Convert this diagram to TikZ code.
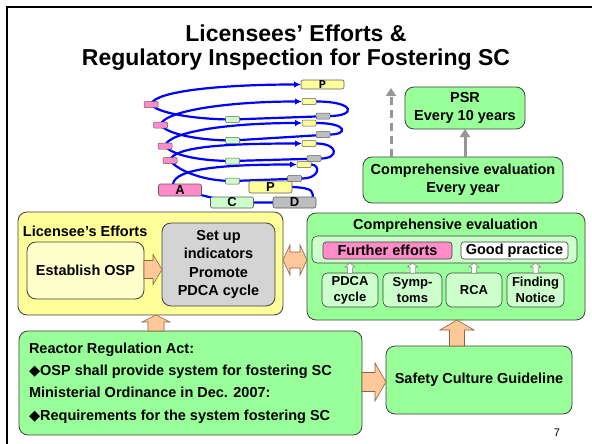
\documentclass[tikz,border=0pt]{standalone}
\usepackage{fontspec}
\setmainfont{Liberation Sans}
\newfontfamily\symfont{DejaVu Sans}
\newfontfamily\monofont{Liberation Mono}
\usetikzlibrary{arrows.meta,calc}
\pgfdeclarelayer{background}
\pgfsetlayers{background,main}

\definecolor{boxgreen}{RGB}{153,255,153}
\definecolor{palegreen}{RGB}{204,255,204}
\definecolor{boxyellow}{RGB}{255,255,153}
\definecolor{paleyellow}{RGB}{255,255,204}
\definecolor{boxgray}{RGB}{212,212,212}
\definecolor{stepgray}{RGB}{190,190,190}
\definecolor{boxpink}{RGB}{255,140,200}
\definecolor{peach}{RGB}{255,200,152}
\definecolor{peachline}{RGB}{140,100,70}
\definecolor{edge}{RGB}{64,64,64}
\definecolor{spiralblue}{RGB}{0,0,255}
\definecolor{arrowgray}{RGB}{150,150,150}

\newcommand\fs[2]{\fontsize{#1}{#2}\selectfont}

% block arrow pointing up: style, base point, length, body half, head half, head length
\newcommand\arrowup[6]{%
  \draw[#1] #2 ++(-#4,0) -- ++(0,{-(#3-#6)}) -- ++({-(#5-#4)},0) -- ++(#5,-#6)
    -- ++(#5,#6) -- ++({-(#5-#4)},0) -- ++(0,{#3-#6}) -- cycle;}
% block arrow pointing right: style, base point, length, body half, head half, head length
\newcommand\arrowright[6]{%
  \draw[#1] #2 ++(0,-#4) -- ++({#3-#6},0) -- ++(0,{-(#5-#4)}) -- ++(#6,#5)
    -- ++(-#6,#5) -- ++(0,{-(#5-#4)}) -- ++({-(#3-#6)},0) -- cycle;}
% two-headed block arrow: style, left tip, length, body half, head half, head length
\newcommand\arrowboth[6]{%
  \draw[#1] #2 -- ++(#6,-#5) -- ++(0,{#5-#4}) -- ++({#3-2*#6},0) -- ++(0,{-(#5-#4)})
    -- ++(#6,#5) -- ++(-#6,#5) -- ++(0,{-(#5-#4)}) -- ++({-(#3-2*#6)},0)
    -- ++(0,{#5-#4}) -- cycle;}

\begin{document}
\begin{tikzpicture}[x=1pt,y=-1pt,
  every node/.style={inner sep=0pt, outer sep=0pt},
  txt/.style={font=\bfseries\fs{14.5}{18.3}, align=center},
  panel/.style={txt, draw=edge, line width=0.8pt, rounded corners=9pt},
  tag/.style={txt, draw=edge, line width=0.6pt, rounded corners=3pt, minimum height=17pt},
  smallbox/.style={draw=edge, line width=0.6pt, rounded corners=6pt, fill=palegreen,
    minimum height=34pt, align=center, font=\bfseries\fs{13}{16}},
  peacharrow/.style={fill=peach, draw=peachline, line width=0.6pt, line join=miter},
  hollowarrow/.style={fill=white, draw=arrowgray!80!black, line width=0.5pt},
  psrarrow/.style={draw=arrowgray, line width=3pt, -{Triangle[length=8pt,width=10pt]}},
  spsmall/.style={draw=edge!85, line width=0.5pt, rounded corners=1pt,
    minimum width=14pt, minimum height=6pt},
  spbig/.style={draw=edge!85, line width=0.6pt, rounded corners=2pt,
    minimum width=43pt, minimum height=12pt, font=\bfseries\fs{13}{13}},
  spiral/.style={draw=spiralblue, line width=2.2pt},
  spiralarrow/.style={spiral, -{Latex[length=7pt,width=6.5pt]}}
]
\useasboundingbox (0,0) rectangle (592,444);
\draw[line width=2pt] (7,444) -- (7,7) -- (592,7);

% heading
\node[font=\bfseries\fs{23}{24}, align=center] (title) at (296,48)
  {Licensees’ Efforts \&\\Regulatory Inspection for Fostering SC};

% ---------- PDCA spiral ----------
\node[spbig, fill=boxpink] (bA) at (180,190) {A};
\node[spbig, fill=boxyellow] (bP) at (270.5,187) {P};
\node[spbig, fill=palegreen, minimum height=11pt] (bC) at (232,202.5) {C};
\node[spbig, fill=stepgray, minimum height=11pt] (bD) at (294.5,202.5) {D};
\node[spbig, fill=boxyellow, minimum height=9pt, font=\monofont\bfseries\fs{12}{12}] (topP) at (322.5,84.5) {P};

\node[spsmall, fill=boxpink] (pk1) at (170,160.5) {};
\node[spsmall, fill=boxpink] (pk2) at (165,146) {};
\node[spsmall, fill=boxpink] (pk3) at (160.5,125) {};
\node[spsmall, fill=boxpink] (pk4) at (151,104.5) {};
\node[spsmall, fill=palegreen] (gr1) at (232.5,181) {};
\node[spsmall, fill=palegreen] (gr2) at (232.5,161) {};
\node[spsmall, fill=palegreen] (gr3) at (232.5,140.5) {};
\node[spsmall, fill=palegreen] (gr4) at (232.5,119.5) {};
\node[spsmall, fill=boxyellow] (y1) at (304,164.5) {};
\node[spsmall, fill=boxyellow] (y2) at (309,143.5) {};
\node[spsmall, fill=boxyellow] (y3) at (309,123) {};
\node[spsmall, fill=boxyellow] (y4) at (309,101.5) {};
\node[spsmall, fill=stepgray] (g1) at (294.5,178.5) {};
\node[spsmall, fill=stepgray] (g2) at (314,158.5) {};
\node[spsmall, fill=stepgray] (g3) at (323,134.5) {};
\node[spsmall, fill=stepgray] (g4) at (323,116) {};

\begin{pgfonlayer}{background}
  \fill[white] (0,0) rectangle (592,444);
  \draw[spiral] (bP.east) .. controls +(22,1) and +(2,-9) .. ($(bD.east)+(-4,-2)$);
  \draw[spiral] (bD.center) -- (bC.center) -- (bA.center);
  \draw[spiralarrow] ($(bA.north)+(-7,0)$) .. controls +(2,-16) and +(-70,0) .. (y1.west);
  % level 1
  \draw[spiral] (y1.east) .. controls +(9.5,0) and +(19,0) .. (g1.east)
    -- (gr1.center) .. controls +(-30,0) and +(8,10) .. (pk1.center);
  \draw[spiralarrow] (pk1.center) .. controls +(3,-14) and +(-75,0) .. (y2.west);
  % level 2
  \draw[spiral] (y2.east) .. controls +(23,0) and +(18,0) .. (g2.east)
    -- (gr2.center) .. controls +(-30,0) and +(8,10) .. (pk2.center);
  \draw[spiralarrow] (pk2.center) .. controls +(3,-14) and +(-75,0) .. (y3.west);
  % level 3
  \draw[spiral] (y3.east) .. controls +(32,0) and +(18,0) .. (g3.east)
    -- (gr3.center) .. controls +(-30,0) and +(8,10) .. (pk3.center);
  \draw[spiralarrow] (pk3.center) .. controls +(3,-14) and +(-75,0) .. (y4.west);
  % level 4
  \draw[spiral] (y4.east) .. controls +(40,0) and +(26,0) .. (g4.east)
    -- (gr4.center) .. controls +(-30,0) and +(8,10) .. (pk4.center);
  \draw[spiralarrow] (pk4.center) .. controls +(3,-14) and +(-75,0) .. (topP.west);
\end{pgfonlayer}

% ---------- periodic reviews ----------
\node[panel, fill=boxgreen, minimum width=120pt, minimum height=42pt] (psr) at (465,108)
  {PSR\\Every 10 years};
\node[panel, fill=boxgreen, minimum width=200pt, minimum height=46pt] (cey) at (463,180)
  {Comprehensive evaluation\\Every year};
\draw[psrarrow] (psr.south |- cey.north) -- (psr.south);
\coordinate (dashtop) at (391,88);
\draw[psrarrow, dash pattern=on 8pt off 5pt] (dashtop |- cey.north) -- (dashtop);

% ---------- licensee's efforts ----------
\node[panel, fill=boxyellow, minimum width=265pt, minimum height=103pt] (lic) at (150.5,263.5) {};
\node[txt, anchor=west] (lictitle) at (23,231) {Licensee’s Efforts};
\node[panel, fill=paleyellow, minimum width=117pt, minimum height=57pt] (osp) at (85.5,270.5)
  {Establish OSP};
\node[panel, fill=boxgray, minimum width=113pt, minimum height=83pt] (setup) at (218.5,264.5)
  {Set up\\indicators\\Promote\\PDCA cycle};
\arrowright{peacharrow}{($(osp.east)+(0,-1)$)}{18}{9}{15}{9}

% ---------- comprehensive evaluation ----------
\node[panel, fill=boxgreen, minimum width=278pt, minimum height=107pt] (ce) at (446,266.5) {};
\node[txt] (cetitle) at (445.5,226) {Comprehensive evaluation};
\node[draw=edge, line width=0.6pt, rounded corners=5pt, fill=palegreen,
  minimum width=265pt, minimum height=27pt] (band) at (444.5,249.5) {};
\node[tag, fill=boxpink, minimum width=129pt] (further) at (387.5,250.5) {Further efforts};
\node[tag, fill=white, minimum width=107pt] (good) at (514.5,250.5) {Good practice};
\node[smallbox, minimum width=56pt] (pdca) at (350,290) {PDCA\\cycle};
\node[smallbox, minimum width=59pt] (symp) at (412.5,290) {Symp-\\toms};
\node[smallbox, minimum width=56pt] (rca) at (474,290) {RCA};
\node[smallbox, minimum width=57pt] (find) at (535.5,290) {Finding\\Notice};
\arrowup{hollowarrow}{(pdca.north)}{10}{2.5}{5}{4}
\arrowup{hollowarrow}{(symp.north)}{10}{2.5}{5}{4}
\arrowup{hollowarrow}{(rca.north)}{10}{2.5}{5}{4}
\arrowup{hollowarrow}{(find.north)}{10}{2.5}{5}{4}

\arrowboth{peacharrow}{($(lic.east)+(0,-3.5)$)}{24}{8}{15}{7}

% ---------- regulation ----------
\node[panel, fill=boxgreen, minimum width=343pt, minimum height=104pt] (reg) at (190.5,383) {};
\node[txt, anchor=west, align=left, font=\bfseries\fs{14.5}{22.3}] (regtext) at (29,383)
  {Reactor Regulation Act:\\
   {\symfont ◆}OSP shall provide system for fostering SC\\
   Ministerial Ordinance in Dec. 2007:\\
   {\symfont ◆}Requirements for the system fostering SC};
\node[panel, fill=boxgreen, minimum width=186pt, minimum height=68pt] (scg) at (479,380)
  {Safety Culture Guideline};

\arrowup{peacharrow}{($(reg.north)+(-34.5,0)$)}{16}{8}{14}{7}
\arrowright{peacharrow}{($(reg.east)+(0,-1)$)}{24}{9.5}{19}{11}
\arrowup{peacharrow}{($(scg.north)+(-22,0)$)}{26}{7.5}{17}{10}

\node[font=\fs{11}{11}] (pagenum) at (557,433) {7};
\end{tikzpicture}
\end{document}
